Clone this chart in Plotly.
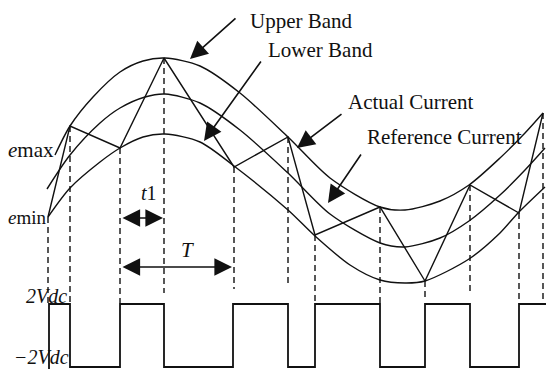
import plotly.graph_objects as go

# band curves (pixel-like units, y grows downward)
upper_x = [55, 70, 93, 120, 143, 165, 200, 240, 288, 330, 380, 405, 440, 469, 500, 525, 543]
upper_y = [155, 126, 97, 72, 61, 58, 66, 93, 137, 178, 207, 210, 201, 185, 158, 133, 113]

ref_x = [47, 70, 100, 120, 145, 165, 200, 240, 288, 330, 380, 405, 440, 469, 500, 525, 545]
ref_y = [189, 155, 123, 108, 97, 94, 103, 130, 173, 214, 243, 247, 238, 221, 195, 170, 148]

lower_x = [48, 70, 100, 120, 143, 165, 200, 234, 288, 315, 350, 380, 405, 425, 469, 500, 518, 545]
lower_y = [217, 188, 162, 148, 137, 134, 142, 166, 210, 236, 265, 280, 283, 281, 259, 233, 213, 187]

# actual current switching points
actual_x = [48, 70, 120, 164, 234, 288, 315, 380, 425, 470, 519, 543]
actual_y = [217, 126, 148, 58, 167, 137, 235, 207, 281, 185, 213, 113]
dash_end = [303, 303, 303, 293, 289, 285, 303, 303, 297, 293, 303, 303]

# inverter output
switch_x = [49, 70, 120, 164, 233, 288, 315, 380, 425, 470, 519, 546]
v_high, v_low = 304, 367

ink = "#111111"
serif = "Liberation Serif"

fig = go.Figure()

for xs, ys in [(upper_x, upper_y), (ref_x, ref_y), (lower_x, lower_y)]:
    fig.add_trace(go.Scatter(x=xs, y=ys, mode="lines",
                             line=dict(color=ink, width=1.4, shape="spline", smoothing=0.8),
                             hoverinfo="skip"))

fig.add_trace(go.Scatter(x=actual_x, y=actual_y, mode="lines",
                         line=dict(color=ink, width=1.4), hoverinfo="skip"))

# dashed drop lines
dx, dy = [], []
for x, y0, y1 in zip(actual_x, actual_y, dash_end):
    dx += [x, x, None]
    dy += [y0, y1, None]
fig.add_trace(go.Scatter(x=dx, y=dy, mode="lines",
                         line=dict(color=ink, width=1.4, dash="6px,4px"), hoverinfo="skip"))

# square wave
sq_x = [switch_x[0]] + switch_x
sq_y = [369] + [v_high if i % 2 == 0 else v_low for i in range(len(switch_x) - 1)]
sq_y.append(sq_y[-1])
fig.add_trace(go.Scatter(x=sq_x, y=sq_y, mode="lines",
                         line=dict(color=ink, width=1.8, shape="hv"), hoverinfo="skip"))

def label(x, y, text, size=21):
    fig.add_annotation(x=x, y=y, text=text, showarrow=False, xanchor="left", yanchor="middle",
                       font=dict(family=serif, size=size, color=ink))

def arrow(x0, y0, x1, y1, side="end"):
    fig.add_annotation(x=x1, y=y1, ax=x0, ay=y0, xref="x", yref="y", axref="x", ayref="y",
                       text="", showarrow=True, arrowhead=2, arrowsize=2.2, arrowwidth=1.6,
                       arrowcolor=ink, arrowside=side, standoff=0, startstandoff=0)

label(248, 21, "Upper Band")
label(266, 50, "Lower Band")
label(346, 102, "Actual Current")
label(365, 137, "Reference Current")
label(6, 150, "<i>e</i>max")
label(6, 217, "<i>e</i>min", 19)
label(139, 193, "<i>t</i>1", 20)
label(179, 250, "<i>T</i>")
label(24, 296, "<i>2Vdc</i>", 20)
label(12, 357, "<i>−2Vdc</i>", 20)

arrow(237, 17, 190, 59)
arrow(262, 60, 204, 141)
arrow(343, 113, 297, 148)
arrow(362, 153, 328, 203)
arrow(121, 218, 163, 218, "end+start")
arrow(121, 267, 232, 267, "end+start")

fig.update_xaxes(range=[0, 546], visible=False)
fig.update_yaxes(range=[369, 0], visible=False)
fig.update_layout(width=546, height=369, margin=dict(l=0, r=0, t=0, b=0),
                  plot_bgcolor="white", paper_bgcolor="white", showlegend=False)

fig.write_html("out.html", config={"displayModeBar": False},
               post_script="document.body.style.margin='0px';")
